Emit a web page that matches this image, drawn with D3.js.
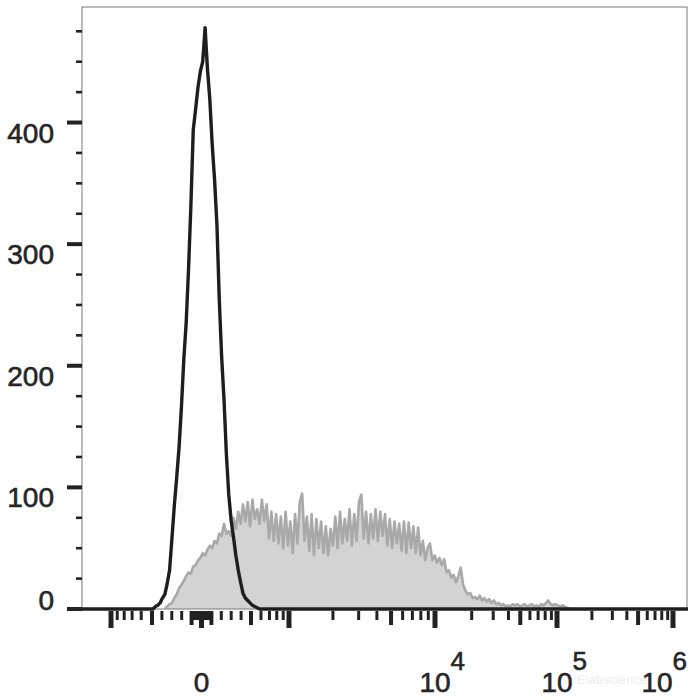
<!DOCTYPE html>
<html><head><meta charset="utf-8">
<script src="https://cdn.jsdelivr.net/npm/d3@7"></script>
<style>
body{margin:0;background:#fff}
svg{display:block}
text{font-family:"Liberation Sans",Arial,sans-serif}
.lbl{stroke:#262626;stroke-width:0.6px;fill:#262626}
</style>
</head><body>
<svg id="chart" width="700" height="700"></svg>
<script>
// ---- data ----
// histogram counts per display channel (256 channels across the axis)
const channelCount = 256;
const isotypeStart = 31;
const isotypeCounts = [2,3,5,9,12,21,32,58,85,108,133,166,205,235,279,332,394,411,429,442,450,478,444,419,382,353,316,254,207,172,127,94,73,59,44,32,22,13,9,7,5,3,2,1];
const stainedStart = 35;
const stainedCounts = [1,2,4,5,9,12,17,20,23,27,30,29,35,36,40,42,46,44,49,52,50,56,54,62,60,70,62,64,60,75,66,80,70,86,72,88,68,90,74,82,70,90,72,86,
  58,80,56,78,54,76,50,80,52,72,46,78,54,88,95,56,76,48,78,44,74,50,72,46,68,44,66,52,76,50,80,54,74,56,82,52,78,56,88,94,58,80,54,78,58,82,56,80,60,78,52,74,50,72,54,70,48,72,46,71,50,68,46,67,44,56,40,50,54,
  40,44,38,42,36,41,30,32,26,28,22,27,34,20,15,12,13,9,10,8,11,7,9,6,8,5,7,4,5,3,4,2,3,2,4,3,4,2,3,4,2,3,4,2,3,2,4,3,5,7,4,3,4,3,2,3,2,1,0];

const yMajorTicks = [0,100,200,300,400];
const yMinorTicks = [25,50,75,125,150,175,225,250,275,325,350,375,425,450,475];

const xMajorTicks = [-1000,0,1000,10000,100000,1000000];
const xMediumTicks = [-500,-100,100,500,5000,50000,500000];
const xMinorTicks = [-900,-800,-700,-600,-400,-300,-200,-90,-80,-70,-60,-50,-40,-30,-20,-10,
  10,20,30,40,50,60,70,80,90,200,300,400,600,700,800,900,
  2000,3000,4000,6000,7000,8000,9000,
  20000,30000,40000,60000,70000,80000,90000,
  200000,300000,400000,600000,700000,800000,900000];
const xLabelValues = [0,10000,100000,1000000];
const xLabelBases = ["0","10","10","10"];
const xLabelExps = ["","4","5","6"];

// ---- layout ----
const L = 82, R = 687, T = 7, B = 609;
const svg = d3.select("#chart");

// biexponential-like display transform: linear near zero, log beyond +-500
function tf(v){
  const a = Math.abs(v), s = v < 0 ? -1 : 1;
  return a < 500 ? v/500 : s*(1 + Math.log10(a/500));
}
const xBreaks = [-1000,-500,500,1000,10000,100000,1000000];
const x = d3.scaleLinear().domain(xBreaks.map(tf)).range([111,152,251,289,435,557,673]);
const xv = v => x(tf(v));
const ch = d3.scaleLinear().domain([0, channelCount]).range([L, 688]);
const y = d3.scaleLinear().domain([0, 495]).range([B, T]);

// ---- histograms ----
const stained = stainedCounts.map((c,k)=>({i: stainedStart+k, c}));
svg.append("path").datum(stained)
  .attr("d", d3.area().x(d=>ch(d.i)).y0(y(0)).y1(d=>y(d.c)))
  .attr("fill","#d3d3d3");
svg.append("path").datum(stained)
  .attr("d", d3.line().x(d=>ch(d.i)).y(d=>y(d.c)))
  .attr("fill","none").attr("stroke","#a9a9a9").attr("stroke-width",2.6).attr("stroke-linejoin","round");

// frame
svg.append("rect").attr("x",L).attr("y",T).attr("width",R-L).attr("height",B-T)
  .attr("fill","none").attr("stroke","#7a7a7a").attr("stroke-width",1);

const iso = d3.range(0, channelCount+1).map(i=>{
  const k = i - isotypeStart;
  return {i, c: (k>=0 && k<isotypeCounts.length) ? isotypeCounts[k] : 0};
});
svg.append("path").datum(iso)
  .attr("d", d3.line().x(d=>ch(d.i)).y(d=>y(d.c)))
  .attr("fill","none").attr("stroke","#1e1e1e").attr("stroke-width",3.4).attr("stroke-linejoin","round");

// ---- y axis ----
const gy = svg.append("g");
gy.selectAll("line.maj").data(yMajorTicks).join("line")
  .attr("x1",67).attr("x2",L).attr("y1",d=>y(d)).attr("y2",d=>y(d))
  .attr("stroke","#222").attr("stroke-width",4);
gy.selectAll("line.min").data(yMinorTicks).join("line").attr("class","min")
  .attr("x1",76).attr("x2",L).attr("y1",d=>y(d)).attr("y2",d=>y(d))
  .attr("stroke","#222").attr("stroke-width",2.6);
gy.selectAll("text").data(yMajorTicks).join("text").attr("class","lbl")
  .attr("x",54).attr("y",d=>Math.min(y(d)+20, B+1))
  .attr("text-anchor","end").attr("font-size",28)
  .text(d=>d);

// ---- x axis ----
const gx = svg.append("g");
function xt(vals, len, w){
  gx.append("g").selectAll("line").data(vals).join("line")
    .attr("x1",d=>xv(d)).attr("x2",d=>xv(d)).attr("y1",611).attr("y2",611+len)
    .attr("stroke","#222").attr("stroke-width",w);
}
xt(xMinorTicks, 9, 3);
xt(xMediumTicks, 14, 4);
xt(xMajorTicks, 17, 5);

xLabelValues.forEach((v,k)=>{
  const t = gx.append("text").attr("class","lbl").attr("y",692).attr("font-size",28);
  const base = t.append("tspan").text(xLabelBases[k]);
  if (xLabelExps[k]) t.append("tspan").attr("dy",-22).attr("font-size",26).text(xLabelExps[k]);
  const bw = base.node().getComputedTextLength();
  let x0 = xv(v) - bw/2;
  const total = t.node().getComputedTextLength();
  if (x0 + total > 687) x0 = 687 - total;
  t.attr("x", x0);
});

// faint watermark
svg.append("text").attr("x",612).attr("y",684).attr("text-anchor","middle")
  .attr("font-size",13).attr("fill","#eeeeee").text("Elabscience");
</script>
</body></html>
